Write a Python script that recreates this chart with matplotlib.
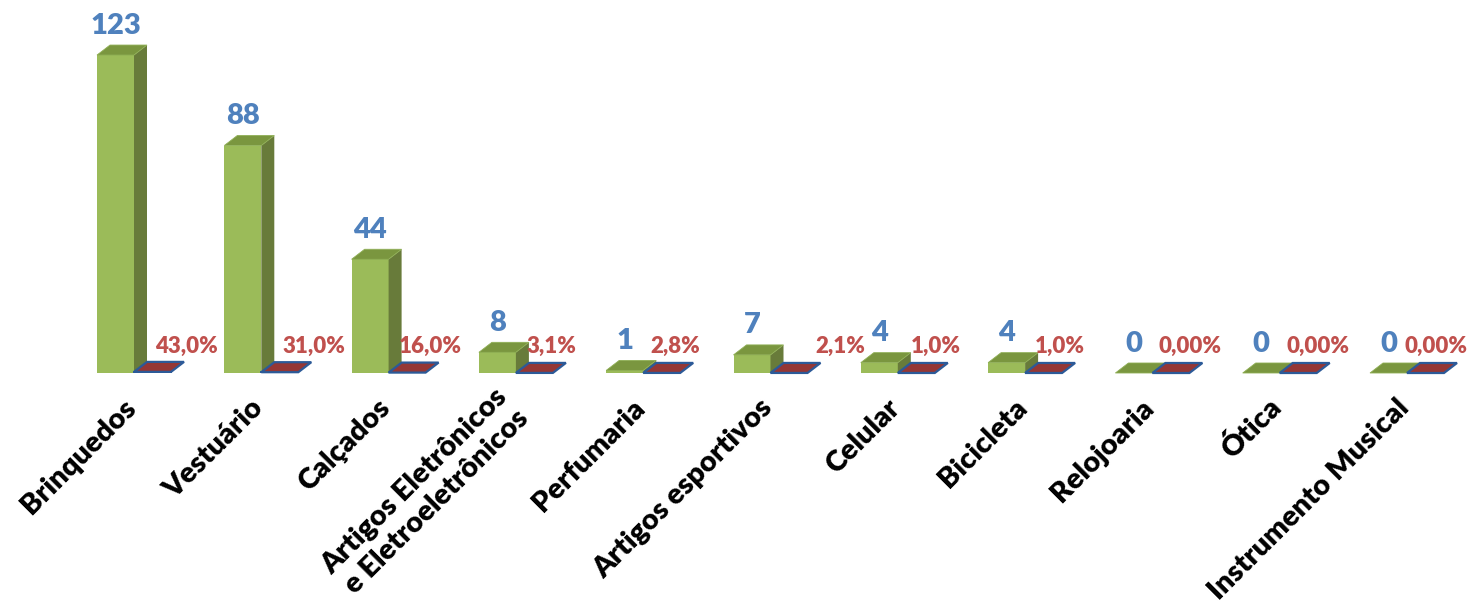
import matplotlib
matplotlib.use('Agg')
import matplotlib.pyplot as plt
from matplotlib.patches import Polygon

# ---------------- data ----------------
categories = ["Brinquedos", "Vestuário", "Calçados",
              "Artigos Eletrônicos\ne Eletroeletrônicos", "Perfumaria",
              "Artigos esportivos", "Celular", "Bicicleta", "Relojoaria",
              "Ótica", "Instrumento Musical"]
counts = [123, 88, 44, 8, 1, 7, 4, 4, 0, 0, 0]
pct_values = [43.0, 31.0, 16.0, 3.1, 2.8, 2.1, 1.0, 1.0, 0.0, 0.0, 0.0]
pct_labels = ["43,0%", "31,0%", "16,0%", "3,1%", "2,8%", "2,1%",
              "1,0%", "1,0%", "0,00%", "0,00%", "0,00%"]

# label nudges (pixels) for the percentage labels, as placed in the original
pct_nudge = [34, 34, 23, 17, 14, 51, 20, 16, 19, 20, 10]

# ---------------- style ----------------
plt.rcParams['font.family'] = ['Lato', 'DejaVu Sans']
W, H = 1468, 613
fig = plt.figure(figsize=(W / 100, H / 100), dpi=100)
base_px = 240              # base line from bottom
ax = fig.add_axes([0, base_px / H, 1, 1 - base_px / H])

px_x = 127.3               # pixels per category
px_y = 2.585               # pixels per unit
x0_px = 134                # pixel of category 0 boundary
ax.set_xlim(-x0_px / px_x, (W - x0_px) / px_x)
ax.set_ylim(0, (H - base_px) / px_y)

w = 37 / px_x              # bar width (data)
dx = 13 / px_x             # depth offsets
dy = 10 / px_y

g_front = '#9BBB59'
g_side = '#687B3A'
g_top = '#7A963F'
r_front = '#953735'
r_edge = '#2C5A98'
blue = '#4F81BD'
red = '#C0504D'

xs = list(range(len(categories)))

# green bars (front faces via library bar)
ax.bar([x - w for x in xs], counts, width=w, align='edge', color=g_front,
       edgecolor='none', zorder=2)
for x, h in zip(xs, counts):
    xl, xr = x - w, x
    top = Polygon([(xl, h), (xr, h), (xr + dx, h + dy), (xl + dx, h + dy)],
                  closed=True, facecolor=g_top, edgecolor='#8FAF55',
                  linewidth=0.6, zorder=3, clip_on=False)
    side = Polygon([(xr, 0), (xr + dx, dy), (xr + dx, h + dy), (xr, h)],
                   closed=True, facecolor=g_side, edgecolor='none',
                   zorder=2, clip_on=False)
    ax.add_patch(side)
    ax.add_patch(top)

# red bars (percent as fraction -> nearly flat)
pct_frac = [p / 100 for p in pct_values]
ax.bar(xs, pct_frac, width=w, align='edge', color=r_front,
       edgecolor=r_edge, linewidth=1.4, zorder=4)
for x, h in zip(xs, pct_frac):
    xl, xr = x, x + w
    top = Polygon([(xl, h), (xr, h), (xr + dx, h + dy), (xl + dx, h + dy)],
                  closed=True, facecolor=r_front, edgecolor=r_edge,
                  linewidth=1.6, zorder=5, clip_on=False, joinstyle='miter')
    ax.add_patch(top)

# value labels
for x, h in zip(xs, counts):
    ax.annotate(str(h), (x - w / 2, h + dy), xytext=(0, 14), textcoords='offset points',
                ha='center', va='center', color=blue, fontsize=21,
                fontweight='heavy', zorder=6, annotation_clip=False)

pct_y = (373 - 346) / px_y
for x, lab, nd in zip(xs, pct_labels, pct_nudge):
    ax.annotate(lab, (x + w / 2, pct_y), xytext=(nd * 0.72, 0),
                textcoords='offset points', ha='center', va='center',
                color=red, fontsize=16, fontweight='heavy', zorder=6,
                annotation_clip=False)

# category labels
ax.set_xticks([x - w / 2 + 16 / px_x for x in xs])
ax.set_xticklabels(categories)
ax.tick_params(axis='x', length=0, pad=22)
for t in ax.get_xticklabels():
    t.set_rotation(45)
    t.set_ha('right')
    t.set_va('center')
    t.set_rotation_mode('anchor')
    t.set_fontsize(21)
    t.set_fontweight('heavy')
    t.set_color('black')
ax.set_yticks([])
for s in ax.spines.values():
    s.set_visible(False)
ax.patch.set_alpha(0)

fig.savefig('out.png', dpi=100, facecolor='white')
